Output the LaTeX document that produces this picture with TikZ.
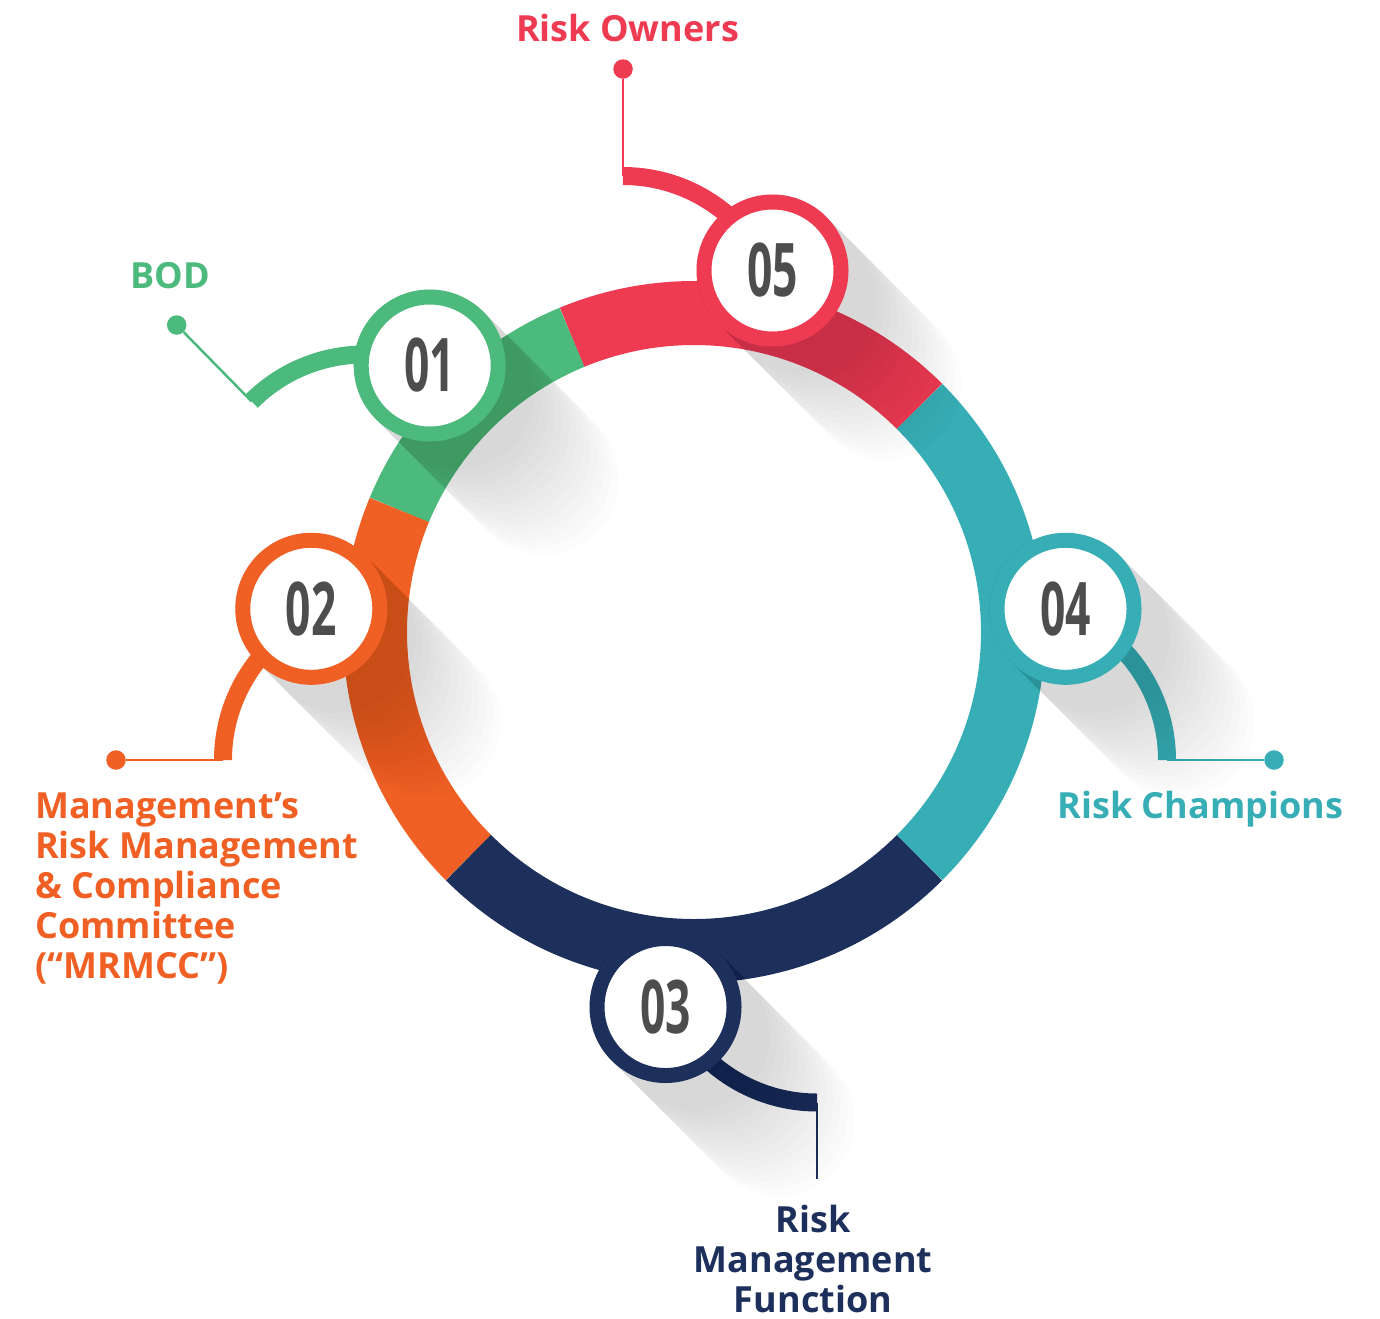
\documentclass[tikz,border=0pt]{standalone}
\usepackage{fontspec}
\setmainfont{Open Sans}
\usepackage{graphicx}
\usepackage{tikz}
\usetikzlibrary{calc}
\definecolor{rred}{HTML}{EF3B52}
\definecolor{rgreen}{HTML}{4CBA7C}
\definecolor{rorange}{HTML}{F06024}
\definecolor{rnavy}{HTML}{1D2F5B}
\definecolor{rteal}{HTML}{37ADB6}
\definecolor{rgrey}{HTML}{4D4D4D}
\tikzstyle{numdisc}=[circle, fill=white, line width=15, minimum size=137, inner sep=0, text=rgrey, font=\bfseries\fontsize{74}{74}\selectfont]
\tikzstyle{bead}=[circle, minimum size=19.5, inner sep=0]
\tikzstyle{wire}=[line width=2.5]
\tikzstyle{link}=[line width=18]
\tikzstyle{tag}=[inner sep=0, font=\bfseries\fontsize{36}{40}\selectfont]
\tikzstyle{umbra}=[black, opacity=0.011]
\newcommand{\digits}[1]{\scalebox{0.6}[1]{#1}}

\begin{document}
\begin{tikzpicture}[x=1pt, y=1pt]
\useasboundingbox (0,0) rectangle (1380,-1318);

% ring
\coordinate (o) at (694,-632);
\foreach \a/\b/\col in {45/112.5/rred, 112.5/157.5/rgreen, 157.5/225/rorange, 225/315/rnavy, 315/405/rteal}
    \draw[\col, line width=64] ($(o)+(\a:319)$) arc[start angle=\a, end angle=\b, radius=319];

\coordinate (p01) at (429.7,-365.5);
\coordinate (p02) at (311.3,-608.8);
\coordinate (p03) at (665.5,-1007);
\coordinate (p04) at (1065.5,-608.8);
\coordinate (p05) at (772.5,-270.5);

% Risk Owners
\node[bead, fill=rred] (d05) at (623,-69) {};
\coordinate (c05) at (623,-176);
\draw[wire, rred] (d05) -- (c05);
\draw[link, rred] (c05) arc[start angle=90, end angle=35, radius=160];

% BOD
\node[bead, fill=rgreen] (d01) at (176.7,-325) {};
\coordinate (c01) at (251.5,-401.3);
\draw[wire, rgreen] (d01) -- (c01);
\draw[link, rgreen] (c01) arc[start angle=135, end angle=70, radius=160];

% MRMCC
\node[bead, fill=rorange] (d02) at (116,-760) {};
\coordinate (c02) at (223,-760);
\draw[wire, rorange] (d02) -- (c02);
\draw[link, rorange] (c02) arc[start angle=180, end angle=110, radius=160];

% Risk Management Function
\coordinate (c03) at (817,-1102.5);
\coordinate (e03) at (817,-1179);
\draw[wire, rnavy] (c03) -- (e03);
\draw[link, rnavy] (c03) arc[start angle=270, end angle=210, radius=160];

% Risk Champions
\node[bead, fill=rteal] (d04) at (1274,-760) {};
\coordinate (c04) at (1167,-760);
\draw[wire, rteal] (d04) -- (c04);
\draw[link, rteal] (c04) arc[start angle=0, end angle=70, radius=160];

% long shadows
\foreach \p in {p01,p02,p03,p04,p05}
    \foreach \s in {40,50,...,160}
        \fill[umbra] (\p) ++(45:76) -- ++(-45:\s) arc[start angle=45, end angle=-135, radius=76] -- ++(135:\s) arc[start angle=225, end angle=45, radius=76] -- cycle;

\node[numdisc, draw=rgreen] (n01) at (p01) {\digits{01}};
\node[numdisc, draw=rorange] (n02) at (p02) {\digits{02}};
\node[numdisc, draw=rnavy] (n03) at (p03) {\digits{03}};
\node[numdisc, draw=rteal] (n04) at (p04) {\digits{04}};
\node[numdisc, draw=rred] (n05) at (p05) {\digits{05}};

\node[tag, rred, anchor=base] (t05) at (627.5,-41.7) {Risk Owners};
\node[tag, rgreen, anchor=base] (t01) at (170,-288) {BOD};
\node[tag, rorange, anchor=base west, align=left] (t02) at (35,-978.3) {Management’s\\Risk Management\\\& Compliance\\Committee\\(“MRMCC”)};
\node[tag, rnavy, anchor=base, align=center] (t03) at (813,-1312) {Risk\\Management\\Function};
\node[tag, rteal, anchor=base] (t04) at (1200.5,-818) {Risk Champions};

\end{tikzpicture}
\end{document}
